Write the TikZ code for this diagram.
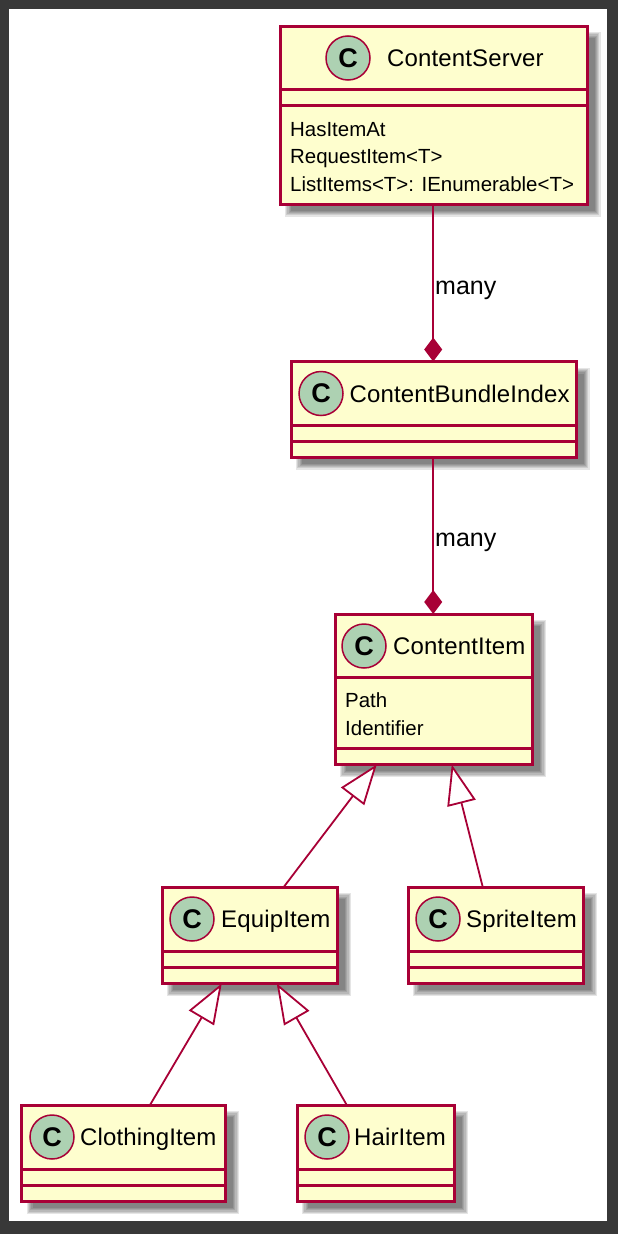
\documentclass[tikz,border=0pt]{standalone}
\usepackage{fontspec}
\setmainfont{Liberation Sans}
\usetikzlibrary{arrows.meta}
\definecolor{umlLine}{HTML}{A80036}
\definecolor{umlFill}{HTML}{FEFECE}
\definecolor{umlSpot}{HTML}{ADD1B2}
\definecolor{umlFrame}{HTML}{383838}
\tikzset{
	classbox/.style={draw=umlLine, fill=umlFill, line width=3pt, inner sep=0pt, outer sep=0pt},
	classsep/.style={draw=umlLine, line width=3pt},
	classspot/.style={circle, draw=umlLine, fill=umlSpot, line width=1.5pt, minimum size=44pt, inner sep=0pt, font=\fontsize{27}{27}\selectfont\bfseries},
	classtitle/.style={anchor=base west, inner sep=0pt, font=\fontsize{24}{28}\selectfont\addfontfeature{LetterSpace=0.6}},
	classmember/.style={anchor=base west, inner sep=0pt, font=\fontsize{20.45}{24}\selectfont},
	edgelabel/.style={anchor=base west, inner sep=0pt, font=\fontsize{25}{28}\selectfont},
	relation/.style={draw=umlLine, line width=1.8pt},
	composes/.style={relation, -{Diamond[length=24pt, width=18pt, fill=umlLine]}},
	extends/.style={relation, -{Triangle[length=40pt, width=29pt, fill=white, line width=1.8pt]}}
}
% name, title, left, top, right, bottom, first rule, second rule, spot x
\newcommand{\umlClass}[9]{
	\foreach \k in {0,...,5}
		\fill[black, opacity=.1] ({#3+5+\k*1.2},{#4+6+\k*1.2}) rectangle ({#5+13.5-\k*1.2},{#6+12.5-\k*1.2});
	\node[classbox, minimum width={#5-#3}, minimum height={#6-#4}] (#1) at ({(#3+#5)/2},{(#4+#6)/2}) {};
	\draw[classsep] (#1.west |- 0,#7) -- (#1.east |- 0,#7);
	\draw[classsep] (#1.west |- 0,#8) -- (#1.east |- 0,#8);
	\node[classspot] (#1Spot) at (#9,{#4+32}) {C};
	\node[classtitle] (#1Title) at (\umlTitleX,{#4+40.5}) {#2};
}

\begin{document}
\begin{tikzpicture}[x=1pt, y=-1pt]
	\useasboundingbox (0,0) rectangle (618,1234);
	\fill[umlFrame] (0,0) rectangle (618,1234);
	\fill[white] (9,9) rectangle (607,1221);

	\def\umlTitleX{387}
	\umlClass{server}{ContentServer}{280}{26}{587}{204}{89.5}{105.5}{348}
	\def\umlTitleX{349.5}
	\umlClass{index}{ContentBundleIndex}{291}{361.5}{576}{457}{425}{441}{321}
	\def\umlTitleX{393}
	\umlClass{item}{ContentItem}{335}{614}{532.5}{764.5}{677}{748}{364}
	\def\umlTitleX{221}
	\umlClass{equip}{EquipItem}{162}{887}{337.5}{983.5}{951}{967}{192}
	\def\umlTitleX{466}
	\umlClass{sprite}{SpriteItem}{408}{887}{583.5}{983.5}{951}{967}{438}
	\def\umlTitleX{80}
	\umlClass{clothing}{ClothingItem}{21.5}{1105}{225.5}{1201.5}{1169}{1185}{52}
	\def\umlTitleX{354}
	\umlClass{hair}{HairItem}{297}{1105}{454.5}{1201.5}{1169}{1185}{327}

	\node[classmember] (serverHas) at (290,136) {HasItemAt};
	\node[classmember] (serverRequest) at (290,163.5) {RequestItem<T>};
	\node[classmember] (serverList) at (290,191) {ListItems<T>: IEnumerable<T>};
	\node[classmember] (itemPath) at (345,707.5) {Path};
	\node[classmember] (itemId) at (345,735) {Identifier};

	\draw[composes] ([xshift=-.3]server.south) -- ([xshift=-.3]server.south |- index.north);
	\draw[composes] ([xshift=-.3]index.south) -- ([xshift=-.3]index.south |- item.north);
	\node[edgelabel] (manyServer) at (435,294) {many};
	\node[edgelabel] (manyIndex) at (435,546) {many};

	\draw[extends] ([xshift=34]equip.north) -- ([xshift=-57]item.south);
	\draw[extends] ([xshift=-13]sprite.north) -- ([xshift=18]item.south);
	\draw[extends] ([xshift=26.5]clothing.north) -- ([xshift=-28]equip.south);
	\draw[extends] ([xshift=-29]hair.north) -- ([xshift=27]equip.south);
\end{tikzpicture}
\end{document}
